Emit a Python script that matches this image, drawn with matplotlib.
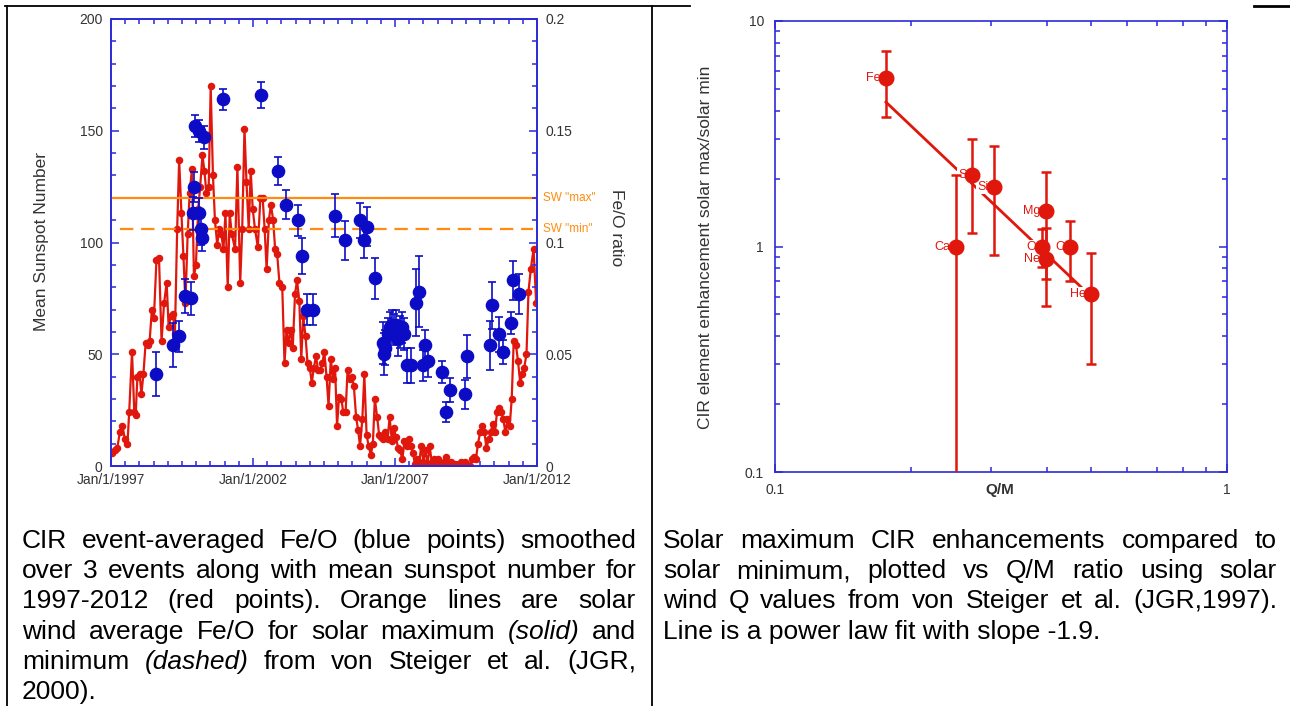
import matplotlib
matplotlib.use("Agg")
import matplotlib.pyplot as plt
import numpy as np
from matplotlib.lines import Line2D
from matplotlib.ticker import FixedLocator, FixedFormatter, MultipleLocator, LogLocator, NullFormatter

plt.rcParams["font.family"] = ["Liberation Sans", "DejaVu Sans"]

# ---------------- data: left panel ----------------
# mean sunspot number (red points), decimal year
ssn_years = [
    1997.03, 1997.13, 1997.22, 1997.31, 1997.40, 1997.49, 1997.58, 1997.64, 1997.74, 1997.82,
    1997.87, 1997.93, 1998.01, 1998.07, 1998.14, 1998.22, 1998.29, 1998.36, 1998.44, 1998.51,
    1998.60, 1998.69, 1998.78, 1998.87, 1998.96, 1999.03, 1999.10, 1999.18, 1999.25, 1999.33,
    1999.40, 1999.48, 1999.55, 1999.62, 1999.70, 1999.77, 1999.85, 1999.92, 1999.99, 2000.07,
    2000.14, 2000.22, 2000.29, 2000.36, 2000.44, 2000.51, 2000.59, 2000.66, 2000.74, 2000.81,
    2000.88, 2000.96, 2001.03, 2001.11, 2001.18, 2001.25, 2001.37, 2001.45, 2001.55, 2001.62,
    2001.70, 2001.77, 2001.85, 2001.92, 2001.99, 2002.07, 2002.17, 2002.26, 2002.34, 2002.41,
    2002.48, 2002.56, 2002.63, 2002.71, 2002.78, 2002.85, 2002.93, 2003.03, 2003.11, 2003.18,
    2003.25, 2003.33, 2003.40, 2003.48, 2003.55, 2003.63, 2003.70, 2003.77, 2003.85, 2003.92,
    2004.00, 2004.07, 2004.14, 2004.22, 2004.29, 2004.37, 2004.44, 2004.51, 2004.59, 2004.66,
    2004.74, 2004.81, 2004.89, 2004.96, 2005.03, 2005.11, 2005.18, 2005.26, 2005.33, 2005.40,
    2005.48, 2005.55, 2005.63, 2005.70, 2005.77, 2005.85, 2005.92, 2006.00, 2006.07, 2006.15,
    2006.22, 2006.29, 2006.37, 2006.44, 2006.52, 2006.59, 2006.66, 2006.74, 2006.81, 2006.89,
    2006.96, 2007.03, 2007.11, 2007.18, 2007.26, 2007.33, 2007.41, 2007.48, 2007.55, 2007.63,
    2007.70, 2007.78, 2007.85, 2007.92, 2008.00, 2008.07, 2008.15, 2008.22, 2008.29, 2008.37,
    2008.44, 2008.52, 2008.59, 2008.66, 2008.74, 2008.81, 2008.89, 2008.96, 2009.04, 2009.11,
    2009.18, 2009.26, 2009.33, 2009.41, 2009.48, 2009.55, 2009.63, 2009.70, 2009.78, 2009.85,
    2009.92, 2010.00, 2010.07, 2010.15, 2010.22, 2010.30, 2010.37, 2010.44, 2010.52, 2010.59,
    2010.67, 2010.74, 2010.81, 2010.89, 2010.96, 2011.04, 2011.11, 2011.18, 2011.26, 2011.33,
    2011.41, 2011.48, 2011.55, 2011.63, 2011.70, 2011.78, 2011.88, 2011.97,
]
ssn_values = [
    6, 7, 8, 15, 18, 12, 10, 24, 51, 24,
    23, 40, 41, 32, 41, 55, 54, 56, 70, 66,
    92, 93, 56, 73, 82, 62, 67, 68, 59, 106,
    137, 113, 94, 73, 104, 122, 133, 85, 90, 115,
    125, 139, 132, 122, 125, 170, 130, 110, 99, 106,
    104, 97, 113, 80, 113, 104, 97, 134, 82, 106,
    151, 127, 106, 132, 115, 106, 98, 120, 120, 106,
    88, 110, 117, 110, 97, 95, 82, 80, 46, 61,
    55, 61, 53, 77, 83, 74, 48, 67, 58, 46,
    44, 37, 44, 49, 43, 43, 46, 51, 40, 27,
    48, 39, 44, 18, 31, 30, 24, 24, 43, 39,
    40, 36, 22, 16, 9, 21, 41, 14, 9, 5,
    10, 30, 22, 14, 13, 12, 15, 12, 22, 11,
    17, 13, 8, 7, 3, 11, 9, 12, 9, 6,
    1, 3, 0.5, 9, 2, 7, 1, 9, 2, 3,
    1, 3, 0.5, 1, 2, 4, 1, 2, 0.5, 1,
    0.5, 1, 2, 1, 2, 0.5, 0, 3, 4, 3,
    10, 15, 18, 15, 8, 12, 15, 19, 15, 24,
    26, 24, 21, 15, 21, 18, 30, 56, 54, 47,
    37, 41, 44, 50, 78, 88, 97, 73,
]

# CIR event-averaged Fe/O (blue points)
fe_years = [
    1998.59, 1999.18, 1999.40, 1999.62, 1999.80, 1999.89, 1999.92, 1999.96, 2000.10, 2000.11,
    2000.16, 2000.19, 2000.26, 2000.96, 2002.29, 2002.88, 2003.15, 2003.60, 2003.71, 2003.89,
    2004.10, 2004.89, 2005.23, 2005.77, 2005.92, 2006.03, 2006.28, 2006.59, 2006.62, 2006.66,
    2006.74, 2006.81, 2006.89, 2006.96, 2007.03, 2007.11, 2007.18, 2007.26, 2007.33, 2007.41,
    2007.55, 2007.75, 2007.85, 2008.00, 2008.04, 2008.15, 2008.64, 2008.78, 2008.93, 2009.48,
    2009.52, 2010.34, 2010.41, 2010.67, 2010.81, 2011.10, 2011.15, 2011.36,
]
fe_o = [
    0.041, 0.054, 0.058, 0.076, 0.075, 0.113, 0.125, 0.152, 0.150, 0.113,
    0.106, 0.102, 0.147, 0.164, 0.166, 0.132, 0.117, 0.110, 0.094, 0.070,
    0.070, 0.112, 0.101, 0.110, 0.101, 0.107, 0.084, 0.055, 0.050, 0.053,
    0.059, 0.062, 0.063, 0.061, 0.063, 0.057, 0.060, 0.062, 0.059, 0.045,
    0.045, 0.073, 0.078, 0.045, 0.054, 0.047, 0.042, 0.024, 0.034, 0.032,
    0.049, 0.054, 0.072, 0.059, 0.051, 0.064, 0.083, 0.077,
]
fe_err = [
    0.0099, 0.0099, 0.007, 0.0075, 0.0075, 0.0075, 0.0067, 0.005, 0.005, 0.007,
    0.007, 0.006, 0.005, 0.0045, 0.0057, 0.0063, 0.0063, 0.007, 0.008, 0.007,
    0.007, 0.0095, 0.0088, 0.0078, 0.0078, 0.0087, 0.0092, 0.0095, 0.0095, 0.008,
    0.007, 0.007, 0.007, 0.007, 0.007, 0.008, 0.007, 0.007, 0.007, 0.008,
    0.008, 0.015, 0.016, 0.007, 0.007, 0.007, 0.005, 0.0045, 0.0055, 0.0065,
    0.0098, 0.011, 0.0105, 0.0078, 0.0052, 0.0050, 0.0088, 0.009,
]

sw_max = 0.12   # solar wind Fe/O, solar maximum
sw_min = 0.106  # solar wind Fe/O, solar minimum

year_ticks = [1997, 2002, 2007, 2012]
year_labels = ["Jan/1/1997", "Jan/1/2002", "Jan/1/2007", "Jan/1/2012"]
ssn_ticks = [0, 50, 100, 150, 200]
ssn_labels = ["0", "50", "100", "150", "200"]
feo_ticks = [0, 0.05, 0.1, 0.15, 0.2]
feo_labels = ["0", "0.05", "0.1", "0.15", "0.2"]

# ---------------- data: right panel ----------------
elements = ["Fe", "S", "Si", "Ca", "Mg", "O", "C", "Ne", "He"]
q_over_m = [0.176, 0.273, 0.305, 0.251, 0.397, 0.389, 0.450, 0.397, 0.500]
enhancement = [5.56, 2.08, 1.83, 1.00, 1.44, 1.00, 1.00, 0.877, 0.616]
enh_err_lo = [1.80, 0.93, 0.91, 0.99, 0.72, 0.19, 0.30, 0.33, 0.314]
enh_err_hi = [1.79, 0.93, 0.96, 1.07, 0.69, 0.19, 0.30, 0.33, 0.32]

fit_slope = -1.9
fit_amp = 0.161
fit_range = [0.176, 0.488]

qm_ticks = [0.1, 1]
qm_labels = ["0.1", "1"]
enh_ticks = [0.1, 1, 10]
enh_labels = ["0.1", "1", "10"]

# ---------------- captions ----------------
left_caption = [
    "CIR event-averaged Fe/O (blue points) smoothed",
    "over 3 events along with mean sunspot number for",
    "1997-2012 (red points).  Orange lines are solar",
    "wind average Fe/O for solar maximum (solid) and",
    "minimum (dashed) from von Steiger et al. (JGR,",
    "2000).",
]
right_caption = [
    "Solar maximum CIR enhancements compared to",
    "solar minimum, plotted vs Q/M ratio using solar",
    "wind Q values from von Steiger et al. (JGR,1997).",
    "Line is a power law fit with slope -1.9.",
]
italic_words = {"(solid)", "(dashed)"}

# ---------------- styling ----------------
W, H = 1290, 706
RED = "#e0170c"
BLUE = "#0c0cc6"
AXBLUE = "#2a2ad8"
ORANGE = "#ff8c10"
TXT = "#333333"
CAP_SIZE = 19


def fx(px):
    return px / W


def fy(py):
    return 1 - py / H


def style_axes(ax):
    for sp in ax.spines.values():
        sp.set_color(AXBLUE)
        sp.set_linewidth(1.2)


fig = plt.figure(figsize=(W / 100, H / 100), dpi=100)

# ---- left panel ----
ax1 = fig.add_axes([fx(111), fy(466), (537 - 111) / W, (466 - 19) / H])
ax1.plot(ssn_years, ssn_values, "-o", color=RED, lw=1.6, ms=4.4, mec=RED, zorder=2)
ax1.set_xlim(1997, 2012)
ax1.set_ylim(0, 200)
ax1.xaxis.set_major_locator(FixedLocator(year_ticks))
ax1.xaxis.set_major_formatter(FixedFormatter(year_labels))
ax1.xaxis.set_minor_locator(MultipleLocator(0.5))
ax1.yaxis.set_major_locator(FixedLocator(ssn_ticks))
ax1.yaxis.set_major_formatter(FixedFormatter(ssn_labels))
ax1.yaxis.set_minor_locator(MultipleLocator(10))
ax1.tick_params(which="both", direction="in", top=True, right=False,
                color=AXBLUE, labelcolor=TXT, labelsize=10, width=1.1)
ax1.tick_params(which="major", length=6)
ax1.tick_params(which="minor", length=3.3)
ax1.tick_params(axis="y", pad=6)
ax1.tick_params(axis="x", pad=5)
style_axes(ax1)

ax2 = ax1.twinx()
ax2.set_ylim(0, 0.2)
ax2.yaxis.set_major_locator(FixedLocator(feo_ticks))
ax2.yaxis.set_major_formatter(FixedFormatter(feo_labels))
ax2.yaxis.set_minor_locator(MultipleLocator(0.01))
ax2.tick_params(which="both", direction="in", color=AXBLUE, labelcolor=TXT,
                labelsize=10, width=1.1, pad=6)
ax2.tick_params(which="major", length=6)
ax2.tick_params(which="minor", length=3.3)
style_axes(ax2)

ax2.axhline(sw_max, color=ORANGE, lw=1.6, zorder=1)
ax2.axhline(sw_min, xmin=0.02, xmax=0.99, color=ORANGE, lw=1.6, ls=(0, (6, 3.5)), zorder=1)
ax2.errorbar(fe_years, fe_o, yerr=fe_err, fmt="o", color=BLUE, ms=8.8,
             capsize=3, elinewidth=1.2, capthick=1.2, zorder=3)
ax2.text(2012.2, sw_max, 'SW "max"', color=ORANGE, fontsize=8.5, va="center", ha="left", clip_on=False)
ax2.text(2012.2, sw_min, 'SW "min"', color=ORANGE, fontsize=8.5, va="center", ha="left", clip_on=False)

fig.text(fx(42), fy(242), "Mean Sunspot Number", rotation=90, ha="center", va="center",
         fontsize=12.5, color=TXT)
fig.text(fx(617), fy(228), "Fe/O ratio", rotation=270, ha="center", va="center",
         fontsize=12.5, color=TXT)

# ---- right panel ----
ax3 = fig.add_axes([fx(775), fy(472), (1227 - 775) / W, (472 - 21) / H])
ax3.set_xscale("log")
ax3.set_yscale("log")
ax3.set_xlim(0.1, 1)
ax3.set_ylim(0.1, 10)

fit_x = np.array(fit_range)
ax3.plot(fit_x, fit_amp * fit_x ** fit_slope, color=RED, lw=2, zorder=1)
for name, x, y in zip(elements, q_over_m, enhancement):
    ax3.annotate(name, (x, y), xytext=(-4, 0), textcoords="offset points",
                 ha="right", va="center", fontsize=9, color=RED, zorder=2,
                 bbox=dict(fc="white", ec="none", pad=0.5))
ax3.errorbar(q_over_m, enhancement, yerr=[enh_err_lo, enh_err_hi], fmt="o", color=RED,
             ms=10.5, capsize=3.5, elinewidth=1.8, capthick=1.8, zorder=3)

ax3.xaxis.set_major_locator(FixedLocator(qm_ticks))
ax3.xaxis.set_major_formatter(FixedFormatter(qm_labels))
ax3.xaxis.set_minor_locator(LogLocator(base=10, subs=np.arange(2, 10)))
ax3.xaxis.set_minor_formatter(NullFormatter())
ax3.yaxis.set_major_locator(FixedLocator(enh_ticks))
ax3.yaxis.set_major_formatter(FixedFormatter(enh_labels))
ax3.yaxis.set_minor_locator(LogLocator(base=10, subs=np.arange(2, 10)))
ax3.yaxis.set_minor_formatter(NullFormatter())
ax3.tick_params(which="both", direction="in", top=True, right=True, color=AXBLUE,
                labelcolor=TXT, labelsize=10, width=1.1, pad=8)
ax3.tick_params(which="major", length=5.5)
ax3.tick_params(which="minor", length=3.3)
style_axes(ax3)

fig.text(fx(706), fy(247), "CIR element enhancement solar max/solar min", rotation=90,
         ha="center", va="center", fontsize=12.5, color=TXT)
fig.text(fx(1000), fy(490), "Q/M", ha="center", va="center", fontsize=11,
         fontweight="bold", color=TXT)

# ---- frame lines ----
for xs, ys, lw in [
    ([5, 690], [6, 6], 1.3),
    ([1254, 1290], [6, 6], 2.0),
    ([7, 7], [6, 706], 1.3),
    ([652, 652], [6, 706], 1.3),
]:
    fig.add_artist(Line2D([fx(v) for v in xs], [fy(v) for v in ys], color="black", lw=lw))

# ---- captions (full justification by placing each word) ----
renderer = fig.canvas.get_renderer()


def text_width(s, italic=False):
    t = fig.text(0, 0, s, fontsize=CAP_SIZE, style="italic" if italic else "normal")
    w = t.get_window_extent(renderer).width
    t.remove()
    return w


def draw_caption(lines, x_left, x_right, y_first, dy):
    for i, line in enumerate(lines):
        y = fy(y_first + i * dy)
        last = i == len(lines) - 1
        if last:
            fig.text(fx(x_left), y, line, fontsize=CAP_SIZE, va="baseline", ha="left")
            continue
        words = line.split()
        widths = [text_width(w, w in italic_words) for w in words]
        gap = (x_right - x_left - sum(widths)) / (len(words) - 1)
        x = x_left
        for w, wd in zip(words, widths):
            fig.text(fx(x), y, w, fontsize=CAP_SIZE, va="baseline", ha="left",
                     style="italic" if w in italic_words else "normal")
            x += wd + gap


draw_caption(left_caption, 22, 636, 548, 30.2)
draw_caption(right_caption, 663, 1277, 548, 30.2)

fig.savefig("out.png", dpi=100)
